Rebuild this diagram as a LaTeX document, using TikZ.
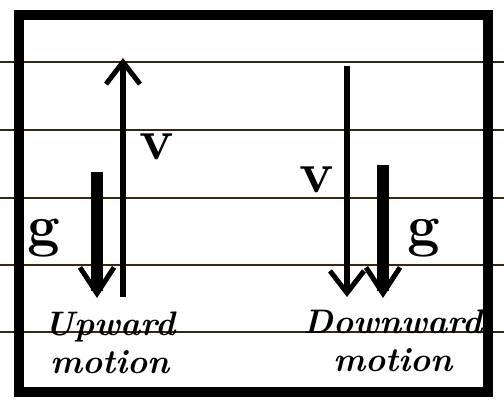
\documentclass[tikz,border=0pt]{standalone}
\usetikzlibrary{arrows.meta}

\begin{document}
\begin{tikzpicture}[
    x=1pt, y=-1pt,
    rule/.style={draw=black!70!brown, line width=1.8pt},
    frame/.style={draw=black, line width=10pt},
    varrow/.style={draw=black, line width=6pt, -{Straight Barb[length=22pt, width=34pt, line width=5pt]}},
    garrow/.style={draw=black, line width=12pt, -{Straight Barb[length=26pt, width=34pt, line width=5pt]}},
    sym/.style={font=\fontsize{58}{62}\selectfont\bfseries, inner sep=0pt},
    caption/.style={font=\fontsize{34}{38}\selectfont\bfseries\itshape, align=center, inner sep=0pt}
]
\useasboundingbox[fill=white] (0,0) rectangle (504,403);

% Ruled paper lines
\foreach \ry in {62,130,198,265,332}
    \draw[rule] (0,\ry) -- (504,\ry);

% Outer frame
\draw[frame] (19,15) rectangle (488,392);

% Upward motion
\coordinate (vbotL) at (123,297);
\coordinate (vtopL) at (123,58);
\coordinate (gtopL) at (97,172);
\coordinate (gtipL) at (97,298);
\draw[varrow] (vbotL) -- (vtopL);
\draw[garrow] (gtopL) -- (gtipL);
\node[sym] (vL) at (157,147) {v};
\node[sym] (gL) at (44,238) {g};
\node[caption] (upL) at (110,343) {Upward\\motion};

% Downward motion
\coordinate (vtopR) at (347,66);
\coordinate (vtipR) at (347,297);
\coordinate (gtopR) at (383,165);
\coordinate (gtipR) at (383,298);
\draw[varrow] (vtopR) -- (vtipR);
\draw[garrow] (gtopR) -- (gtipR);
\node[sym] (vR) at (317,180) {v};
\node[sym] (gR) at (424,238) {g};
\node[caption] (downR) at (393,341) {Downward\\motion};

\end{tikzpicture}
\end{document}
